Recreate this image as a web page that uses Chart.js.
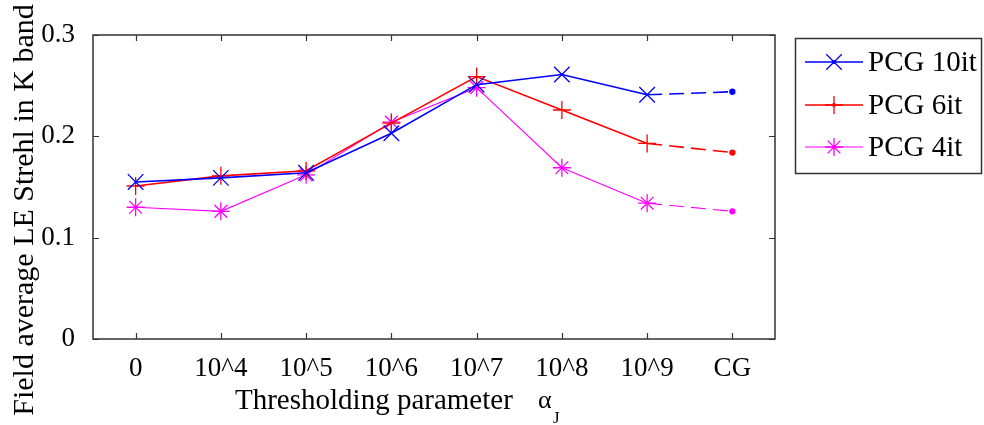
<!DOCTYPE html>
<html>
<head>
<meta charset="utf-8">
<script src="https://cdn.jsdelivr.net/npm/chart.js@4.4.1/dist/chart.umd.min.js"></script>
<style>
  body { margin: 0; background: #fff; }
  #box { width: 984px; height: 425px; }
</style>
</head>
<body>
<div id="box"><canvas id="myChart"></canvas></div>
<script>
const categories = ['0', '10^4', '10^5', '10^6', '10^7', '10^8', '10^9', 'CG'];
const pcg10 = [0.155, 0.159, 0.164, 0.203, 0.251, 0.261, 0.241, 0.244];
const pcg6  = [0.151, 0.161, 0.166, 0.213, 0.259, 0.226, 0.193, 0.184];
const pcg4  = [0.130, 0.126, 0.162, 0.214, 0.248, 0.169, 0.134, 0.126];
const yTicks = [0, 0.1, 0.2, 0.3];
const seriesNames = ['PCG 10it', 'PCG 6it', 'PCG 4it'];

const FONT = "'Liberation Serif', 'Times New Roman', serif";

function styles(marker, r) {
    // last point (CG) is only a small dot
    return {
        pointStyle: categories.map((c, i) => i === categories.length - 1 ? 'circle' : marker),
        pointRadius: categories.map((c, i) => i === categories.length - 1 ? 2.5 : r)
    };
}

function makeSet(label, data, color, marker, r, width) {
    let s = styles(marker, r);
    return {
        label: label,
        data: data,
        borderColor: color,
        backgroundColor: color,
        pointBackgroundColor: color,
        pointBorderColor: color,
        borderWidth: width,
        pointBorderWidth: 1.3,
        pointStyle: s.pointStyle,
        pointRadius: s.pointRadius,
        marker: marker,
        markerR: r,
        tension: 0,
        segment: {
            borderDash: ctx => ctx.p1DataIndex === categories.length - 1 ? [15, 7] : undefined
        }
    };
}

const decor = {
    id: 'decor',
    afterDraw(chart) {
        const ctx = chart.ctx;
        const a = chart.chartArea;
        const x = chart.scales.x, y = chart.scales.y;
        ctx.save();
        // frame
        ctx.strokeStyle = '#333';
        ctx.lineWidth = 1.5;
        ctx.strokeRect(a.left, a.top, a.right - a.left, a.bottom - a.top);
        // inward ticks on all sides
        ctx.lineWidth = 1.2;
        ctx.beginPath();
        for (let i = 0; i < categories.length; i++) {
            let px = Math.round(x.getPixelForTick(i)) + 0.5;
            ctx.moveTo(px, a.bottom); ctx.lineTo(px, a.bottom - 6);
            ctx.moveTo(px, a.top); ctx.lineTo(px, a.top + 6);
        }
        yTicks.forEach(v => {
            let py = Math.round(y.getPixelForValue(v)) + 0.5;
            ctx.moveTo(a.left, py); ctx.lineTo(a.left + 6, py);
            ctx.moveTo(a.right, py); ctx.lineTo(a.right - 6, py);
        });
        ctx.stroke();

        // titles
        ctx.fillStyle = '#000';
        ctx.textBaseline = 'alphabetic';
        ctx.textAlign = 'left';
        ctx.font = '29px ' + FONT;
        ctx.fillText('Thresholding parameter', 235, 409);
        ctx.font = '26px ' + FONT;
        ctx.fillText('\u03b1', 538, 408);
        ctx.font = '17px ' + FONT;
        ctx.fillText('J', 553, 423);

        ctx.save();
        ctx.translate(33, 210);
        ctx.rotate(-Math.PI / 2);
        ctx.textAlign = 'center';
        ctx.font = '30px ' + FONT;
        ctx.fillText('Field average LE Strehl in K band', 0, 0);
        ctx.restore();

        // legend
        ctx.strokeStyle = '#333';
        ctx.lineWidth = 1.5;
        ctx.strokeRect(795.5, 38.5, 186, 135);
        const rows = [62, 105, 147];
        chart.data.datasets.forEach((ds, i) => {
            let ry = rows[i];
            ctx.strokeStyle = ds.borderColor;
            ctx.fillStyle = ds.borderColor;
            ctx.lineWidth = ds.borderWidth;
            ctx.beginPath();
            ctx.moveTo(805, ry); ctx.lineTo(863, ry);
            ctx.stroke();
            ctx.lineWidth = 1.3;
            Chart.helpers.drawPoint(ctx, {pointStyle: ds.marker, radius: ds.markerR, borderWidth: 1.3, rotation: 0}, 834, ry);
            ctx.beginPath();
            ctx.arc(834, ry, 2, 0, Math.PI * 2);
            ctx.fill();
            ctx.fillStyle = '#000';
            ctx.font = '29px ' + FONT;
            ctx.textBaseline = 'middle';
            ctx.fillText(seriesNames[i], 868, ry + 1);
        });
        ctx.restore();
    }
};

new Chart(document.getElementById('myChart'), {
    type: 'line',
    data: {
        labels: categories,
        datasets: [
            makeSet(seriesNames[0], pcg10, '#0000ff', 'crossRot', 11, 1.6),
            makeSet(seriesNames[1], pcg6, '#ff0000', 'cross', 9, 1.6),
            makeSet(seriesNames[2], pcg4, '#ff00ff', 'star', 9, 1.1)
        ]
    },
    options: {
        responsive: true,
        maintainAspectRatio: false,
        animation: false,
        devicePixelRatio: 1,
        layout: { padding: { top: 35, right: 209, left: 0, bottom: 0 } },
        plugins: { legend: { display: false }, tooltip: { enabled: false } },
        scales: {
            x: {
                offset: true,
                grid: { display: false },
                border: { display: false },
                ticks: { color: '#000', font: { family: FONT, size: 27 }, padding: 6, maxRotation: 0, autoSkip: false },
                afterFit: s => { s.height = 86; }
            },
            y: {
                min: 0,
                max: 0.3,
                grid: { display: false },
                border: { display: false },
                afterBuildTicks: s => { s.ticks = yTicks.map(v => ({ value: v })); },
                ticks: { color: '#000', font: { family: FONT, size: 27 }, padding: 10, callback: v => String(v) },
                afterFit: s => { s.width = 93; }
            }
        }
    },
    plugins: [decor]
});
</script>
</body>
</html>
